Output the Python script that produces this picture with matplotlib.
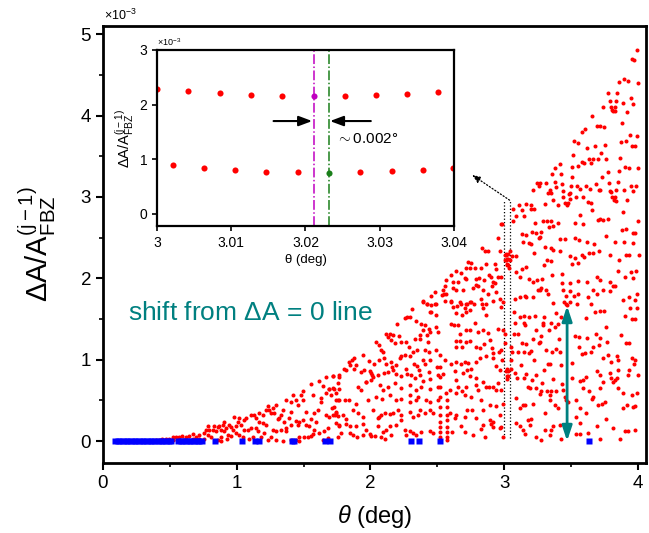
import matplotlib
matplotlib.use('Agg')
import matplotlib.pyplot as plt

plt.rcParams['font.family'] = ['Liberation Sans', 'DejaVu Sans']
plt.rcParams['mathtext.fontset'] = 'custom'
plt.rcParams['mathtext.rm'] = 'Liberation Sans'
plt.rcParams['mathtext.it'] = 'Liberation Sans:italic'
plt.rcParams['mathtext.bf'] = 'Liberation Sans:bold'

# red points (theta in deg, dA/A in units of 1e-3)
red_low_left = [
    (1.763, 0.81), (1.718, 0.80), (1.668, 0.79), (1.618, 0.74), (1.643, 0.68), (1.693, 0.64),
    (1.718, 0.65), (1.756, 0.71), (1.556, 0.70), (1.493, 0.61), (1.481, 0.57), (1.418, 0.57),
    (1.443, 0.50), (1.493, 0.50), (1.568, 0.57), (1.631, 0.53), (1.668, 0.59), (1.706, 0.57),
    (1.743, 0.59), (1.756, 0.50), (1.631, 0.48), (1.368, 0.50), (1.406, 0.48), (1.456, 0.44),
    (1.73, 0.42), (1.743, 0.36), (1.668, 0.32), (1.693, 0.29), (1.718, 0.32), (1.756, 0.31),
    (1.606, 0.38), (1.581, 0.35), (1.518, 0.36), (1.556, 0.27), (1.493, 0.26), (1.443, 0.25),
    (1.406, 0.36), (1.393, 0.28), (1.343, 0.38), (1.331, 0.32), (1.318, 0.28), (1.293, 0.44),
    (1.269, 0.41), (1.244, 0.38), (1.219, 0.38), (1.231, 0.43), (1.256, 0.35), (1.281, 0.34),
    (1.306, 0.27), (1.356, 0.23), (1.368, 0.16), (1.406, 0.20), (1.456, 0.20), (1.468, 0.23),
    (1.518, 0.20), (1.543, 0.18), (1.593, 0.24), (1.581, 0.14), (1.618, 0.10), (1.656, 0.12),
    (1.681, 0.16), (1.743, 0.22), (1.763, 0.18), (1.756, 0.05), (1.556, 0.06), (1.568, 0.09),
    (1.506, 0.05), (1.468, 0.05), (1.443, 0.01), (1.406, 0.01), (1.368, 0.12), (1.331, 0.14),
    (1.293, 0.12), (1.269, 0.14), (1.219, 0.20), (1.194, 0.22), (1.169, 0.24), (1.144, 0.28),
    (1.169, 0.34), (1.194, 0.32), (1.131, 0.32), (1.106, 0.32), (1.069, 0.28), (1.056, 0.26),
    (1.019, 0.28), (1.006, 0.24), (0.994, 0.18), (1.031, 0.20), (1.056, 0.14), (1.081, 0.14),
    (1.106, 0.16), (1.144, 0.16), (1.156, 0.12), (1.206, 0.10), (1.256, 0.05), (1.231, 0.01),
    (1.181, 0.05), (1.119, 0.05), (1.094, 0.03), (1.044, 0.05), (1.019, 0.07), (0.994, 0.10),
    (0.969, 0.14), (0.944, 0.20), (0.919, 0.16), (0.894, 0.20), (0.881, 0.14), (0.906, 0.12),
    (0.931, 0.07), (0.956, 0.06), (0.924, 0.03), (0.881, 0.05), (0.844, 0.12), (0.819, 0.14),
    (0.794, 0.14), (0.769, 0.14), (0.757, 0.10), (0.782, 0.07), (0.807, 0.05), (0.757, 0.03),
    (0.719, 0.07), (0.694, 0.05), (0.67, 0.09), (0.644, 0.06), (0.62, 0.05), (0.594, 0.06),
    (0.57, 0.05), (0.544, 0.045), (0.52, 0.045), (0.494, 0.03), (0.47, 0.03), (0.444, 0.02),
    (0.42, 0.013), (0.394, 0.013), (0.719, 0.03), (0.67, 0.03), (0.607, 0.013), (0.557, 0.013),
    (0.52, 0.013), (0.857, 0.013), (0.881, 0.005), (1.293, 0.013), (1.343, 0.005), (1.468, 0.005),
    (1.531, 0.045), (1.643, 0.013), (1.681, 0.033), (0.981, 0.29), (0.869, 0.18), (0.831, 0.18),
    (0.782, 0.18), (0.906, 0.24), (0.857, 0.17), (0.956, 0.17),
]

red_mid_low = [
    (2.392, 1.71), (2.425, 1.68), (2.485, 1.69), (2.442, 1.58), (2.455, 1.58), (2.487, 1.55),
    (2.605, 1.71), (2.617, 1.65), (2.65, 1.66), (2.679, 1.69), (2.704, 1.64), (2.722, 1.69),
    (2.742, 1.71), (2.772, 1.68), (2.837, 1.69), (2.637, 1.57), (2.687, 1.55), (2.712, 1.58),
    (2.742, 1.61), (2.842, 1.63), (2.867, 1.55), (2.974, 1.65), (2.312, 1.62), (2.272, 1.53),
    (2.255, 1.51), (2.292, 1.52), (2.197, 1.44), (2.143, 1.32), (2.168, 1.30), (2.113, 1.31),
    (2.13, 1.28), (2.21, 1.29), (2.342, 1.47), (2.38, 1.44), (2.405, 1.43), (2.392, 1.36),
    (2.435, 1.38), (2.442, 1.34), (2.422, 1.30), (2.372, 1.30), (2.33, 1.26), (2.367, 1.25),
    (2.43, 1.22), (2.492, 1.40), (2.507, 1.34), (2.60, 1.44), (2.622, 1.43), (2.655, 1.43),
    (2.667, 1.32), (2.637, 1.23), (2.667, 1.23), (2.717, 1.37), (2.747, 1.36), (2.784, 1.45),
    (2.804, 1.34), (2.842, 1.36), (2.879, 1.33), (2.954, 1.38), (2.992, 1.37), (2.043, 1.22),
    (2.06, 1.18), (2.08, 1.12), (2.093, 1.09), (2.15, 1.24), (2.18, 1.20), (2.225, 1.22),
    (2.267, 1.22), (2.287, 1.16), (2.317, 1.10), (2.347, 1.12), (2.405, 1.12), (2.437, 1.10),
    (2.492, 1.12), (2.517, 1.06), (2.637, 1.16), (2.687, 1.16), (2.717, 1.22), (2.742, 1.23),
    (2.792, 1.15), (2.822, 1.14), (2.847, 1.19), (2.892, 1.24), (2.909, 1.14), (2.917, 1.08),
    (2.962, 1.10), (2.979, 1.12), (1.88, 1.02), (1.863, 1.00), (1.838, 0.97), (1.848, 0.94),
    (1.943, 1.06), (1.988, 0.98), (2.023, 0.95), (2.063, 1.00), (2.098, 1.02), (2.118, 0.95),
    (2.155, 0.97), (2.163, 0.91), (2.193, 0.93), (2.22, 1.02), (2.23, 1.05), (2.255, 1.06),
    (2.292, 1.04), (2.325, 0.95), (2.267, 0.88), (2.347, 0.92), (2.392, 0.99), (2.405, 0.95),
    (2.442, 1.00), (2.497, 0.91), (2.555, 0.995), (2.60, 0.95), (2.642, 0.97), (2.679, 0.95),
    (2.704, 0.97), (2.729, 0.96), (2.754, 0.88), (2.792, 0.97), (2.817, 1.02), (2.862, 1.04),
    (2.917, 1.02), (2.942, 0.92), (2.967, 0.87), (1.718, 0.80), (1.768, 0.79), (1.805, 0.89),
    (1.818, 0.87), (1.873, 0.89), (1.893, 0.93), (1.93, 0.85), (1.955, 0.87), (1.993, 0.86),
    (2.005, 0.83), (2.018, 0.79), (2.005, 0.75), (1.968, 0.73), (2.013, 0.81), (2.055, 0.81),
    (2.098, 0.83), (2.13, 0.85), (2.168, 0.87), (2.193, 0.82), (2.23, 0.80), (2.272, 0.82),
    (2.305, 0.81), (2.33, 0.77), (2.362, 0.87), (2.367, 0.81), (2.392, 0.74), (2.435, 0.85),
    (2.447, 0.76), (2.505, 0.81), (2.542, 0.82), (2.63, 0.86), (2.642, 0.75), (2.692, 0.84),
    (2.722, 0.87), (2.747, 0.80), (2.792, 0.78), (2.842, 0.73), (2.867, 0.66), (2.917, 0.66),
    (2.954, 0.71), (1.693, 0.635), (1.73, 0.635), (1.763, 0.635), (1.905, 0.66), (1.93, 0.63),
    (1.963, 0.73), (2.073, 0.69), (2.093, 0.63), (2.13, 0.66), (2.18, 0.71), (2.225, 0.65),
    (2.292, 0.69), (2.342, 0.63), (2.38, 0.66), (2.447, 0.635), (2.505, 0.66), (2.592, 0.63),
    (2.655, 0.66), (2.687, 0.62), (2.717, 0.67), (2.787, 0.69), (2.804, 0.63), (2.887, 0.66),
    (2.942, 0.63), (1.743, 0.51), (1.768, 0.51), (1.813, 0.51), (1.843, 0.50), (1.893, 0.46),
    (1.98, 0.51), (2.038, 0.54), (2.088, 0.52), (2.143, 0.565), (2.193, 0.50), (2.23, 0.52),
    (2.292, 0.565), (2.342, 0.50), (2.292, 0.48), (2.355, 0.54), (2.417, 0.50), (2.442, 0.48),
    (2.505, 0.50), (2.567, 0.585), (2.637, 0.585), (2.704, 0.565), (2.754, 0.54), (2.829, 0.50),
    (2.892, 0.44), (2.942, 0.43), (2.992, 0.46), (1.713, 0.41), (1.743, 0.34), (1.738, 0.32),
    (1.793, 0.32), (1.818, 0.27), (1.868, 0.38), (1.905, 0.34), (1.943, 0.30), (2.018, 0.38),
    (2.055, 0.28), (2.063, 0.30), (2.08, 0.32), (2.105, 0.34), (2.143, 0.33), (2.168, 0.35),
    (2.23, 0.32), (2.205, 0.38), (2.23, 0.26), (2.292, 0.36), (2.317, 0.30), (2.355, 0.32),
    (2.367, 0.38), (2.405, 0.34), (2.442, 0.38), (2.467, 0.35), (2.592, 0.34), (2.63, 0.28),
    (2.642, 0.32), (2.704, 0.30), (2.722, 0.38), (2.762, 0.38), (2.792, 0.28), (2.842, 0.38),
    (2.892, 0.26), (2.917, 0.24), (2.904, 0.21), (2.967, 0.32), (1.768, 0.20), (1.818, 0.21),
    (1.848, 0.18), (1.893, 0.18), (1.943, 0.21), (1.968, 0.14), (1.993, 0.09), (2.005, 0.06),
    (2.055, 0.18), (2.093, 0.115), (2.118, 0.13), (2.143, 0.18), (2.193, 0.20), (2.255, 0.135),
    (2.292, 0.127), (2.317, 0.094), (2.342, 0.074), (2.38, 0.115), (2.442, 0.127), (2.467, 0.094),
    (2.612, 0.115), (2.679, 0.18), (2.704, 0.115), (2.767, 0.074), (2.829, 0.143), (2.842, 0.196),
    (2.917, 0.176), (2.967, 0.155), (1.78, 0.094), (1.848, 0.10), (1.868, 0.074), (1.90, 0.053),
    (1.943, 0.074), (2.03, 0.061), (2.08, 0.045), (2.105, 0.02), (2.155, 0.074), (2.262, 0.074),
    (2.854, 0.045),
    (2.517, 0.91), (2.517, 0.79), (2.517, 0.667), (2.517, 0.544), (2.517, 0.42), (2.517, 0.32),
    (2.517, 0.237), (2.517, 0.176), (2.517, 0.115), (2.517, 0.053),
    (2.572, 0.503), (2.572, 0.42), (2.572, 0.32), (2.572, 0.258), (2.572, 0.176), (2.572, 0.115),
    (2.572, 0.053), (2.572, 0.012),
]

red_mid_high = [
    (2.979, 2.67), (2.954, 2.49), (2.971, 2.33), (2.837, 2.37), (2.854, 2.34), (2.879, 2.34),
    (3.009, 2.29), (3.016, 2.22), (3.029, 2.16), (2.729, 2.20), (2.754, 2.19), (2.717, 2.13),
    (2.742, 2.13), (2.779, 2.13), (2.829, 2.13), (2.867, 2.18), (2.929, 2.18), (2.942, 2.12),
    (2.642, 2.09), (2.605, 2.04), (2.679, 2.06), (2.704, 2.00), (2.792, 1.99), (2.812, 2.00),
    (2.847, 1.98), (2.887, 2.04), (2.904, 2.02), (2.917, 1.96), (2.929, 1.94), (2.954, 2.02),
    (2.979, 2.02), (2.617, 1.96), (2.655, 1.96), (2.712, 1.99), (2.787, 1.92), (2.804, 1.90),
    (2.912, 1.90), (2.567, 1.98), (2.555, 1.90), (2.542, 1.86), (2.547, 1.81), (2.537, 1.79),
    (2.562, 1.81), (2.48, 1.83), (2.455, 1.78), (2.617, 1.88), (2.637, 1.86), (2.692, 1.86),
    (2.767, 1.88), (2.842, 1.86), (2.879, 1.81), (2.942, 1.83), (2.392, 1.72), (2.422, 1.69),
    (2.455, 1.67), (2.487, 1.69), (2.555, 1.72), (2.605, 1.72), (2.667, 1.71), (2.712, 1.69),
    (2.754, 1.71), (2.829, 1.75), (2.862, 1.69), (2.917, 1.72), (2.967, 1.75), (2.992, 1.71),
    (3.012, 2.30), (3.018, 2.24), (3.022, 2.18), (3.026, 2.24), (3.03, 2.30),
    (3.012, 0.86), (3.018, 0.80), (3.022, 0.76), (3.026, 0.80), (3.03, 0.86),
]

red_right_low = [
    (3.078, 1.45), (3.153, 1.43), (3.29, 1.42), (3.353, 1.45), (3.378, 1.40), (3.403, 1.44),
    (3.336, 1.36), (3.241, 1.36), (3.278, 1.29), (3.216, 1.25), (3.26, 1.21), (3.27, 1.22),
    (3.13, 1.20), (3.166, 1.19), (3.076, 1.32), (3.103, 1.31), (3.003, 1.32), (3.003, 1.21),
    (3.41, 1.25), (3.528, 1.29), (3.56, 1.28), (3.62, 1.27), (3.683, 1.32), (3.715, 1.27),
    (3.77, 1.22), (3.76, 1.40), (3.87, 1.30), (3.91, 1.21), (3.935, 1.20), (3.31, 1.12),
    (3.36, 1.10), (3.386, 1.13), (3.42, 1.09), (3.103, 1.09), (3.146, 1.10), (3.186, 1.08),
    (3.203, 1.11), (3.053, 1.15), (3.06, 1.10), (3.558, 1.16), (3.585, 1.07), (3.603, 1.08),
    (3.645, 1.10), (3.665, 1.15), (3.705, 1.18), (3.778, 1.06), (3.74, 1.02), (3.795, 0.97),
    (3.84, 1.04), (3.852, 0.99), (3.952, 1.02), (3.977, 1.00), (3.97, 0.95), (3.927, 0.81),
    (3.226, 0.99), (3.328, 0.95), (3.34, 0.95), (3.423, 0.94), (3.508, 0.96), (3.128, 0.93),
    (3.083, 0.83), (3.053, 1.00), (3.053, 0.89), (3.02, 0.88), (2.986, 0.99), (2.978, 0.63),
    (3.296, 0.87), (3.166, 0.82), (3.146, 0.77), (3.236, 0.81), (3.21, 0.75), (3.096, 0.78),
    (3.286, 0.71), (3.366, 0.76), (3.435, 0.70), (3.503, 0.77), (3.565, 0.74), (3.59, 0.75),
    (3.615, 0.79), (3.69, 0.86), (3.715, 0.81), (3.74, 0.73), (3.79, 0.83), (3.795, 0.77),
    (3.815, 0.73), (3.827, 0.75), (3.84, 0.77), (3.852, 0.87), (3.935, 0.87), (4.002, 0.81),
    (3.178, 0.67), (3.196, 0.65), (3.241, 0.65), (3.266, 0.58), (3.278, 0.61), (3.316, 0.62),
    (3.353, 0.62), (3.34, 0.56), (3.39, 0.62), (3.44, 0.63), (3.453, 0.54), (3.465, 0.50),
    (3.478, 0.48), (3.54, 0.50), (3.59, 0.65), (3.635, 0.61), (3.653, 0.52), (3.665, 0.54),
    (3.715, 0.65), (3.852, 0.65), (3.885, 0.59), (3.952, 0.56), (3.995, 0.59), (3.09, 0.53),
    (3.116, 0.41), (3.141, 0.44), (3.153, 0.44), (3.216, 0.46), (3.34, 0.50), (3.378, 0.44),
    (3.403, 0.40), (3.303, 0.35), (3.565, 0.40), (3.615, 0.34), (3.703, 0.44), (3.728, 0.45),
    (3.753, 0.48), (3.885, 0.41), (3.915, 0.44), (3.96, 0.42), (3.977, 0.43), (3.178, 0.26),
    (3.203, 0.27), (3.19, 0.20), (3.09, 0.22), (3.116, 0.18), (3.141, 0.14), (3.153, 0.09),
    (3.241, 0.05), (3.278, 0.01), (3.303, 0.14), (3.353, 0.14), (3.366, 0.18), (3.415, 0.20),
    (3.535, 0.29), (3.565, 0.22), (3.54, 0.09), (3.565, 0.09), (3.628, 0.10), (3.69, 0.18),
    (3.715, 0.03), (3.76, 0.27), (3.815, 0.155), (3.865, 0.03), (3.902, 0.12), (3.927, 0.12),
    (3.977, 0.13), (3.428, 0.02), (3.34, 0.07), (2.978, 0.17), (2.99, 0.05),
]

red_right_mid = [
    (3.346, 3.05), (3.44, 3.00), (3.483, 3.04), (3.493, 2.98), (3.455, 2.92), (3.47, 2.90),
    (3.48, 2.93), (3.59, 3.00), (3.715, 3.08), (3.795, 3.06), (3.805, 3.00), (3.83, 3.00),
    (3.818, 2.96), (3.833, 2.95), (3.92, 2.96), (3.648, 2.93), (3.628, 2.94), (3.54, 3.00),
    (3.366, 2.96), (3.403, 2.90), (3.303, 2.91), (3.066, 2.85), (3.11, 2.90), (3.13, 2.84),
    (3.166, 2.91), (3.203, 2.90), (3.198, 2.85), (3.223, 2.85), (3.15, 2.77), (3.086, 2.76),
    (3.066, 2.71), (2.986, 2.67), (3.29, 2.71), (3.316, 2.70), (3.346, 2.71), (3.366, 2.64),
    (3.336, 2.63), (3.403, 2.68), (3.233, 2.68), (3.53, 2.68), (3.565, 2.78), (3.59, 2.67),
    (3.653, 2.84), (3.698, 2.72), (3.715, 2.73), (3.74, 2.72), (3.773, 2.73), (3.885, 2.82),
    (3.877, 2.59), (3.91, 2.61), (3.96, 2.56), (3.977, 2.56), (4.002, 2.71), (3.13, 2.55),
    (3.166, 2.53), (3.211, 2.57), (3.241, 2.56), (3.278, 2.57), (3.266, 2.51), (3.258, 2.49),
    (3.186, 2.43), (3.141, 2.44), (3.198, 2.42), (3.415, 2.48), (3.455, 2.48), (3.528, 2.49),
    (3.558, 2.47), (3.62, 2.44), (3.673, 2.42), (3.76, 2.52), (3.827, 2.44), (3.892, 2.44),
    (3.965, 2.43), (3.306, 2.39), (3.366, 2.35), (3.35, 2.37), (3.223, 2.31), (3.09, 2.27),
    (3.06, 2.27), (3.046, 2.33), (3.016, 2.29), (3.02, 2.16), (3.036, 2.13), (3.006, 2.22),
    (3.041, 2.22), (3.415, 2.33), (3.49, 2.27), (3.528, 2.25), (3.598, 2.26), (3.635, 2.31),
    (3.66, 2.31), (3.705, 2.33), (3.578, 2.29), (3.79, 2.29), (3.907, 2.29), (3.93, 2.28),
    (4.01, 2.29), (3.857, 2.22), (3.323, 2.22), (3.346, 2.21), (3.296, 2.16), (3.136, 2.11),
    (3.16, 2.14), (3.09, 2.08), (3.12, 2.01), (3.183, 1.99), (3.213, 1.96), (3.246, 1.98),
    (3.286, 1.99), (3.36, 2.04), (3.435, 2.05), (3.51, 2.17), (3.553, 2.19), (3.43, 1.94),
    (3.495, 1.94), (3.55, 1.97), (3.62, 1.96), (3.69, 2.01), (3.715, 1.98), (3.792, 1.95),
    (3.827, 1.90), (3.852, 2.09), (3.90, 2.01), (3.95, 2.08), (3.985, 2.09), (3.965, 2.00),
    (3.273, 1.88), (3.25, 1.86), (3.266, 1.85), (3.31, 1.86), (3.166, 1.77), (3.12, 1.77),
    (3.08, 1.74), (3.156, 1.78), (3.216, 1.77), (3.328, 1.81), (3.366, 1.70), (3.44, 1.86),
    (3.49, 1.84), (3.46, 1.78), (3.52, 1.78), (3.548, 1.81), (3.625, 1.77), (3.665, 1.86),
    (3.69, 1.81), (3.74, 1.86), (3.79, 1.84), (3.815, 1.90), (3.885, 1.73), (3.93, 1.77),
    (3.977, 1.73), (3.995, 1.81), (3.445, 1.71), (3.465, 1.69), (3.49, 1.71), (3.468, 1.67),
    (3.545, 1.69), (3.645, 1.68), (3.715, 1.60), (3.745, 1.60), (3.68, 1.58), (3.94, 1.63),
    (3.995, 1.64), (3.902, 1.54), (3.952, 1.50), (3.977, 1.50), (3.076, 1.59), (3.116, 1.53),
    (3.146, 1.54), (3.186, 1.53), (3.228, 1.54), (3.15, 1.45), (3.298, 1.52), (3.39, 1.57),
    (3.423, 1.53), (3.29, 1.45), (3.61, 1.51),
]

red_right_high = [
    (3.99, 4.81), (3.955, 4.69), (3.97, 4.68), (3.855, 4.41), (3.897, 4.45), (3.927, 4.42),
    (4.002, 4.40), (3.777, 4.28), (3.845, 4.28), (3.787, 4.18), (3.837, 4.18), (3.945, 4.21),
    (3.89, 4.16), (3.965, 4.14), (3.74, 4.10), (3.795, 4.11), (3.83, 4.11), (3.805, 4.07),
    (3.815, 4.05), (3.825, 4.06), (3.917, 4.04), (3.655, 4.00), (3.882, 3.91), (3.605, 3.84),
    (3.583, 3.80), (3.69, 3.87), (3.715, 3.87), (3.747, 3.86), (3.937, 3.76), (3.995, 3.75),
    (3.875, 3.68), (3.91, 3.69), (3.957, 3.62), (3.977, 3.62), (3.523, 3.69), (3.555, 3.66),
    (3.618, 3.60), (3.678, 3.62), (3.755, 3.64), (3.723, 3.54), (3.515, 3.52), (3.865, 3.48),
    (3.633, 3.46), (3.665, 3.47), (3.70, 3.46), (3.763, 3.46), (3.42, 3.41), (3.383, 3.36),
    (3.508, 3.37), (3.548, 3.38), (3.578, 3.43), (3.60, 3.42), (3.648, 3.42), (3.90, 3.37),
    (3.93, 3.35), (3.857, 3.32), (4.002, 3.35), (3.36, 3.28), (3.425, 3.28), (3.773, 3.30),
    (3.733, 3.25), (3.503, 3.24), (3.27, 3.17), (3.248, 3.165), (3.26, 3.14), (3.31, 3.17),
    (3.383, 3.18), (3.433, 3.16), (3.498, 3.14), (3.545, 3.13), (3.613, 3.13), (3.688, 3.16),
    (3.783, 3.17), (3.848, 3.18), (3.95, 3.14), (3.987, 3.14), (3.216, 3.09), (3.34, 3.09),
    (3.388, 3.12), (3.57, 3.10), (3.638, 3.10), (3.71, 3.08), (3.79, 3.07), (3.837, 3.08),
    (3.893, 3.08), (3.965, 3.07), (3.33, 3.05), (3.44, 3.07), (3.488, 3.05),
]

# blue squares on the dA = 0 line
blue_theta = [0.09, 0.11, 0.13, 0.15, 0.17, 0.19, 0.21, 0.23, 0.25, 0.27, 0.29, 0.31, 0.33,
              0.35, 0.37, 0.39, 0.41, 0.43, 0.45, 0.47, 0.49, 0.51, 0.56, 0.58, 0.60, 0.62,
              0.64, 0.66, 0.68, 0.70, 0.72, 0.74, 0.84, 1.04, 1.14, 1.17, 1.41, 1.43, 1.66,
              1.70, 2.30, 2.36, 2.52, 3.63]
blue_dA = [0.0] * len(blue_theta)

# inset data
inset_upper_theta = [3.0, 3.0042, 3.0085, 3.0126, 3.0169, 3.0253, 3.0295, 3.0337, 3.0379]
inset_upper_dA = [2.29, 2.25, 2.21, 2.18, 2.15, 2.15, 2.17, 2.20, 2.23]
inset_lower_theta = [3.0022, 3.0063, 3.0105, 3.0147, 3.019, 3.0274, 3.0316, 3.0358, 3.0399]
inset_lower_dA = [0.90, 0.85, 0.80, 0.77, 0.76, 0.76, 0.78, 0.81, 0.85]
magenta_pt = (3.0211, 2.15)
green_pt = (3.0231, 0.756)

teal = '#008080'
red_all = red_low_left + red_mid_low + red_mid_high + red_right_low + red_right_mid + red_right_high
red_theta = [p[0] for p in red_all]
red_dA = [p[1] for p in red_all]

fig = plt.figure(figsize=(6.49, 5.33), dpi=100)
ax = fig.add_axes([0.1587, 0.1313, 0.8367, 0.8199])

ax.plot(red_theta, red_dA, 'o', color='red', ms=2.9, mec='none', zorder=3)
ax.plot(blue_theta, blue_dA, 's', color='blue', ms=4.6, mec='none', zorder=4, clip_on=False)

# dotted window lines + pointer to the inset
ax.plot([3.0, 3.0], [0.04, 2.96], ls=':', color='k', lw=0.9, zorder=2)
ax.plot([3.04, 3.04], [0.04, 2.96], ls=':', color='k', lw=0.9, zorder=2)
ax.annotate('', xy=(2.76, 3.27), xytext=(3.04, 2.96),
            arrowprops=dict(arrowstyle='-|>,head_length=0.5,head_width=0.2', ls=':', color='k',
                            lw=0.9, shrinkA=0, shrinkB=0))

# teal shift arrow
ax.annotate('', xy=(3.47, 0.0), xytext=(3.47, 1.66),
            arrowprops=dict(arrowstyle='<|-|>,head_length=0.9,head_width=0.3', color=teal,
                            lw=2, shrinkA=0, shrinkB=0), zorder=5)
ax.text(0.19, 1.57, r'shift from $\Delta$A = 0 line', color=teal, fontsize=19,
        ha='left', va='center')

ax.set_xlim(0, 4.06)
ax.set_ylim(-0.27, 5.1)
ax.set_xticks([0, 1, 2, 3, 4])
ax.set_xticks([0.5, 1.5, 2.5, 3.5], minor=True)
ax.set_yticks([0, 1, 2, 3, 4, 5])
ax.set_yticks([0.5, 1.5, 2.5, 3.5, 4.5], minor=True)
ax.tick_params(which='major', direction='out', length=5, width=1.5, labelsize=13.5)
ax.tick_params(which='minor', direction='out', length=3, width=1.2)
for s in ax.spines.values():
    s.set_linewidth(2)
ax.set_xlabel(r'$\mathit{\theta}$ (deg)', fontsize=17, labelpad=8)
ax.set_ylabel(r'$\Delta$A/A$^{\rm (j-1)}_{\rm FBZ}$', fontsize=21, labelpad=16)
fig.text(0.160, 0.962, r'$\times$10$^{-3}$', fontsize=9)

# inset
ins = fig.add_axes([0.2419, 0.576, 0.4576, 0.3302])
ins.plot(inset_upper_theta, inset_upper_dA, 'o', color='red', ms=4.4, mec='none')
ins.plot(inset_lower_theta, inset_lower_dA, 'o', color='red', ms=4.4, mec='none')
ins.plot([magenta_pt[0]], [magenta_pt[1]], 'o', color='#c000c0', ms=4.4, mec='none', zorder=4)
ins.plot([green_pt[0]], [green_pt[1]], 'o', color='#1a7f1a', ms=4.4, mec='none', zorder=4)
ins.axvline(magenta_pt[0], color='#c000c0', ls='-.', lw=1.1)
ins.axvline(green_pt[0], color='#1a7f1a', ls='-.', lw=1.1)
ins.annotate('', xy=(3.0209, 1.7), xytext=(3.0157, 1.7),
             arrowprops=dict(arrowstyle='-|>,head_length=0.8,head_width=0.3', color='k',
                             lw=1.5, shrinkA=0, shrinkB=0))
ins.annotate('', xy=(3.0233, 1.7), xytext=(3.0288, 1.7),
             arrowprops=dict(arrowstyle='-|>,head_length=0.8,head_width=0.3', color='k',
                             lw=1.5, shrinkA=0, shrinkB=0))
ins.text(3.0241, 1.38, r'$\sim$0.002$\degree$', fontsize=11, ha='left', va='center')
ins.set_xlim(3.0, 3.04)
ins.set_ylim(-0.22, 3.0)
ins.set_xticks([3.0, 3.01, 3.02, 3.03, 3.04])
ins.set_xticklabels(['3', '3.01', '3.02', '3.03', '3.04'])
ins.set_yticks([0, 1, 2, 3])
ins.tick_params(direction='out', length=3.5, width=1.2, labelsize=10)
for s in ins.spines.values():
    s.set_linewidth(1.6)
ins.set_xlabel('\u03b8 (deg)', fontsize=9.5, labelpad=3)
ins.set_ylabel(r'$\Delta$A/A$^{\rm (j-1)}_{\rm FBZ}$', fontsize=10.5, labelpad=2)
ins.text(0.0, 1.01, r'$\times$10$^{-3}$', fontsize=6.5, transform=ins.transAxes,
         ha='left', va='bottom')

fig.savefig('out.png', dpi=100)
